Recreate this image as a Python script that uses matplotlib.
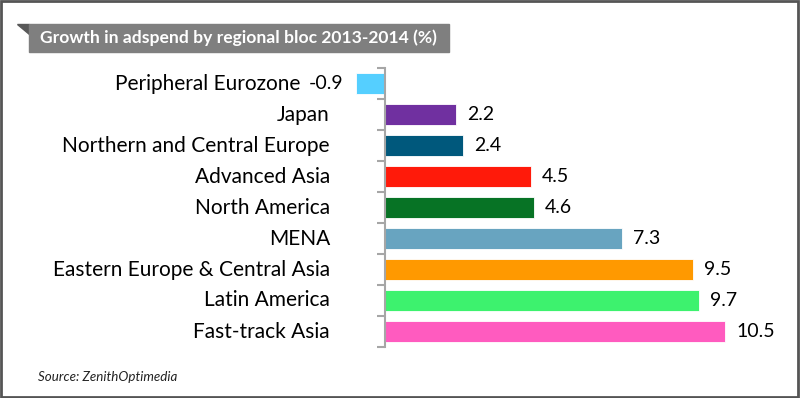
import matplotlib.pyplot as plt
from matplotlib.patches import Rectangle, Polygon
import numpy as np

regions = ['Peripheral Eurozone', 'Japan', 'Northern and Central Europe',
           'Advanced Asia', 'North America', 'MENA',
           'Eastern Europe & Central Asia', 'Latin America', 'Fast-track Asia']
growth = [-0.9, 2.2, 2.4, 4.5, 4.6, 7.3, 9.5, 9.7, 10.5]
colors = ['#55CFFF', '#7030A0', '#00587C', '#FF1A0A', '#077325',
          '#68A4C0', '#FF9900', '#3DF26E', '#FF5BBF']

plt.rcParams['font.family'] = ['Lato', 'DejaVu Sans']

W, H = 800, 398
fig = plt.figure(figsize=(8, 3.98), dpi=100)

# axes placed in pixel terms: zero at x=385, 32.4 px per unit
ppu = 32.4
x0, x1 = -1.0, 12.0
left_px = 385 + x0 * ppu
ax = fig.add_axes([left_px / W, (H - 347) / H, (x1 - x0) * ppu / W, 279 / H])

y = np.arange(len(regions))
ax.barh(y, growth, height=0.68, color=colors, edgecolor='white', linewidth=0.6, zorder=2)
ax.set_xlim(x0, x1)
ax.set_ylim(len(regions) - 0.5, -0.5)

for s in ['top', 'right', 'bottom']:
    ax.spines[s].set_visible(False)
ax.spines['left'].set_position(('data', 0))
ax.spines['left'].set_color('#A6A6A6')
ax.spines['left'].set_linewidth(1.5)
ax.spines['left'].set_zorder(3)
ax.set_xticks([])
ax.set_yticks(np.arange(len(regions) + 1) - 0.5)
ax.set_yticklabels([])
ax.tick_params(axis='y', length=6, width=1.5, color='#A6A6A6', direction='out')

# value labels and category labels
for i, v in enumerate(growth):
    if v >= 0:
        ax.annotate(f'{v}', (v, i), xytext=(11, 0), textcoords='offset pixels',
                    ha='left', va='center', fontsize=14, color='black')
        lab_x = 330
    else:
        ax.annotate(f'{v}', (v, i), xytext=(-12, 0), textcoords='offset pixels',
                    ha='right', va='center', fontsize=14, color='black')
        lab_x = 300
    ax.annotate(regions[i], (0, i), xytext=(lab_x - 385, 0), textcoords='offset pixels',
                ha='right', va='center', fontsize=15, color='black')

# title banner with folded corner
fig.patches.append(Polygon([[17 / W, 1 - 24 / H], [29 / W, 1 - 24 / H], [29 / W, 1 - 34 / H]],
                           closed=True, transform=fig.transFigure, color='#595959'))
fig.patches.append(Rectangle((29 / W, 1 - 52 / H), 420 / W, 28 / H,
                             transform=fig.transFigure, color='#7F7F7F'))
fig.text(40 / W, 1 - 38 / H, 'Growth in adspend by regional bloc 2013-2014 (%)',
         color='white', fontsize=12.6, fontweight='bold', va='center', ha='left')

fig.text(38 / W, 1 - 377 / H, 'Source: ZenithOptimedia', fontsize=9.6,
         style='italic', color='#222222', va='center', ha='left')

# outer border
fig.patches.append(Rectangle((0.001, 0.002), 0.997, 0.996, transform=fig.transFigure,
                             fill=False, edgecolor='#555555', linewidth=2))

fig.savefig('out.png', dpi=100)
